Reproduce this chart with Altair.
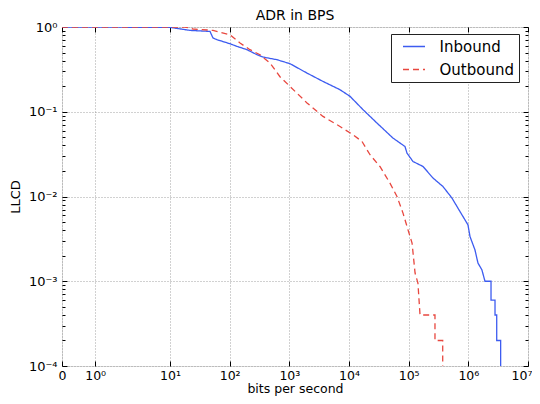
import json
import math
import altair as alt
import pandas as pd

# ---- data (bits per second vs LLCD) ----
series_names = ["Inbound", "Outbound"]
series_colors = ["#3d5cf0", "#e8473f"]

inbound_bps = [0, 10, 21.6, 46.8, 52.6, 61.4, 101, 133, 195, 287, 362, 621, 1026,
               1977, 3664, 7064, 10400, 17140, 29400, 54600, 86700, 93800, 118000,
               174000, 256000, 376000, 532000, 724000, 986000, 1066000, 1290000,
               1450000, 1690000, 1900000, 2400000, 2400000, 2800000, 2800000,
               2990000, 2990000, 3480000, 3480000]
inbound_llcd = [1, 0.99, 0.912, 0.887, 0.741, 0.708, 0.635, 0.590, 0.540, 0.471,
                0.442, 0.411, 0.369, 0.286, 0.228, 0.182, 0.152, 0.106, 0.0736,
                0.0489, 0.0389, 0.0325, 0.0259, 0.0226, 0.0165, 0.0131, 0.00958,
                0.00665, 0.00463, 0.00337, 0.00235, 0.00164, 0.00136, 0.0010,
                0.0010, 0.0006, 0.0006, 0.0004, 0.0004, 0.0002, 0.0002, 0.0001]

outbound_bps = [0, 17.8, 24.3, 52.6, 101, 149, 219, 322, 474, 697, 1026, 1977, 3664,
                7064, 11660, 16500, 22500, 33000, 48600, 63700, 80400, 97500,
                114000, 128000, 143000, 155000, 276000, 276000, 372000, 372000]
outbound_llcd = [1, 1, 0.947, 0.912, 0.811, 0.647, 0.540, 0.471, 0.376, 0.259,
                 0.199, 0.127, 0.0881, 0.0670, 0.0535, 0.0446, 0.0311, 0.0226,
                 0.0144, 0.0100, 0.00637, 0.00404, 0.00282, 0.00125, 0.00095,
                 0.0004, 0.0004, 0.0002, 0.0002, 0.0001]

x_tick_values = [0, 1, 10, 100, 1e3, 1e4, 1e5, 1e6, 1e7]
x_tick_labels = ["0", "10⁰", "10¹", "10²", "10³", "10⁴", "10⁵", "10⁶", "10⁷"]
y_tick_values = [1e-4, 1e-3, 1e-2, 1e-1, 1]
y_tick_labels = ["10⁻⁴", "10⁻³", "10⁻²", "10⁻¹", "10⁰"]
y_minor_values = [k * 10.0 ** e for e in range(-4, 0) for k in range(2, 10)]

# symmetric-log transform (linear below 2, logarithmic above)
LINTHRESH = 2.0
LINSCALE = 1.0 / (1.0 - 0.1)


def symlog(v):
    if v <= LINTHRESH:
        return v / LINTHRESH * LINSCALE
    return LINSCALE + math.log10(v / LINTHRESH)


x_tick_pos = [symlog(v) for v in x_tick_values]
x_shift = LINSCALE - math.log10(LINTHRESH)

rows = []
for name, xs, ys in [("Inbound", inbound_bps, inbound_llcd),
                     ("Outbound", outbound_bps, outbound_llcd)]:
    for i, (xv, yv) in enumerate(zip(xs, ys)):
        rows.append({"series": name, "bps": xv, "llcd": yv, "idx": i})
df = pd.DataFrame(rows)

u_expr = (f"datum.bps <= {LINTHRESH} ? datum.bps / {LINTHRESH} * {LINSCALE} : "
          f"{LINSCALE} + log(datum.bps / {LINTHRESH}) / LN10")

x_scale = alt.Scale(domain=[0, x_tick_pos[-1]], nice=False, zero=False)
y_scale = alt.Scale(type="log", domain=[1e-4, 1], nice=False)

FONT = "DejaVu Sans"

x_label_expr = f"{json.dumps(x_tick_labels, ensure_ascii=False)}[round(datum.value - {x_shift}) + 1]"
y_label_expr = f"{json.dumps(y_tick_labels, ensure_ascii=False)}[round(log(datum.value) / LN10) + 4]"

common_axis = dict(domain=False, tickColor="#000", tickWidth=1, labelFont=FONT,
                   labelColor="#000", titleFont=FONT, titleColor="#000",
                   titleFontWeight="normal")

x_main = alt.Axis(orient="bottom", values=x_tick_pos, labelExpr=x_label_expr,
                  offset=-5, tickSize=5, labelPadding=3, labelFontSize=12.5,
                  labelFlush=True, labelFlushOffset=4,
                  grid=True, gridDash=[1, 2], gridColor="#8a8a8a", gridWidth=0.8,
                  title="bits per second", titleFontSize=12.5, titlePadding=1,
                  **common_axis)
y_main = alt.Axis(orient="left", values=y_tick_values, labelExpr=y_label_expr,
                  offset=-5, tickSize=5, labelPadding=5, labelFontSize=13,
                  labelFlush=False,
                  grid=True, gridDash=[1, 2], gridColor="#8a8a8a", gridWidth=0.8,
                  title="LLCD", titleFontSize=13, titlePadding=6,
                  **common_axis)


def tick_axis(orient, values, size):
    return alt.Axis(orient=orient, values=values, labels=False, grid=False,
                    offset=-size, tickSize=size, title=None, domain=False,
                    tickColor="#000", tickWidth=1)


legend = alt.Legend(title=None, orient="none", legendX=329, legendY=7,
                    fillColor="white", strokeColor="#222",
                    padding=4.5, symbolType="stroke", symbolSize=484,
                    symbolOffset=6.5, clipHeight=16,
                    symbolStrokeWidth=1.3, labelFont=FONT, labelFontSize=15,
                    labelColor="#000", labelOffset=13.5, rowPadding=7)

base = alt.Chart(df).transform_calculate(u=u_expr)

lines = base.mark_line(strokeWidth=1.3, clip=True).encode(
    x=alt.X("u:Q", scale=x_scale, axis=x_main),
    y=alt.Y("llcd:Q", scale=y_scale, axis=y_main),
    color=alt.Color("series:N", scale=alt.Scale(domain=series_names, range=series_colors),
                    legend=legend),
    strokeDash=alt.StrokeDash("series:N",
                              scale=alt.Scale(domain=series_names, range=[[1, 0], [6, 4]]),
                              legend=legend),
    order="idx:Q",
)


def ghost(x_axis, y_axis):
    return base.mark_line(opacity=0).encode(
        x=alt.X("u:Q", scale=x_scale, axis=x_axis),
        y=alt.Y("llcd:Q", scale=y_scale, axis=y_axis),
        detail="series:N",
        order="idx:Q",
    )


layers = [
    lines,
    ghost(None, tick_axis("left", y_minor_values, 3)),
    ghost(None, tick_axis("right", y_tick_values, 5)),
    ghost(None, tick_axis("right", y_minor_values, 3)),
    ghost(tick_axis("top", x_tick_pos, 5), None),
]

chart = alt.layer(*layers).resolve_axis(x="independent", y="independent").properties(
    width=466,
    height=339,
    padding={"left": 54, "top": 19, "right": 4, "bottom": 30},
    autosize=alt.AutoSizeParams(type="none"),
    title=alt.TitleParams("ADR in BPS", font=FONT, fontSize=14, fontWeight="normal",
                          color="#000", anchor="middle", offset=-1.5),
).configure_view(stroke="#222", strokeWidth=1).configure_legend(
    strokeWidth=1
).configure(background="white")

chart.save("out.html", embed_options={"renderer": "svg", "actions": False})
